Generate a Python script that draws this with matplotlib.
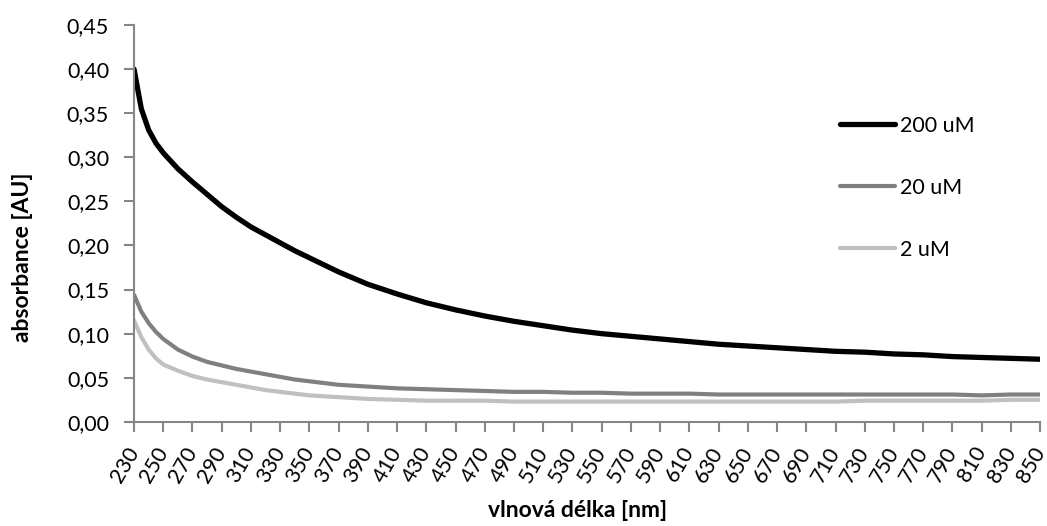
import matplotlib.pyplot as plt
from matplotlib.ticker import FuncFormatter

plt.rcParams['font.family'] = ['Lato', 'DejaVu Sans']

# wavelengths [nm] and measured absorbance [AU]
wavelength = [230, 235, 240, 245, 250, 260, 270, 280, 290, 300, 310, 320, 330,
              340, 350, 360, 370, 380, 390, 410, 430, 450, 470, 490, 510, 530,
              550, 570, 590, 610, 630, 650, 670, 690, 710, 730, 750, 770, 790,
              810, 830, 850]

abs_200 = [0.400, 0.355, 0.331, 0.316, 0.305, 0.287, 0.272, 0.258, 0.244, 0.232,
           0.221, 0.212, 0.203, 0.194, 0.186, 0.178, 0.170, 0.163, 0.156, 0.145,
           0.135, 0.127, 0.120, 0.114, 0.109, 0.104, 0.100, 0.097, 0.094, 0.091,
           0.088, 0.086, 0.084, 0.082, 0.080, 0.079, 0.077, 0.076, 0.074, 0.073,
           0.072, 0.071]

abs_20 = [0.144, 0.125, 0.112, 0.102, 0.094, 0.082, 0.074, 0.068, 0.064, 0.060,
          0.057, 0.054, 0.051, 0.048, 0.046, 0.044, 0.042, 0.041, 0.040, 0.038,
          0.037, 0.036, 0.035, 0.034, 0.034, 0.033, 0.033, 0.032, 0.032, 0.032,
          0.031, 0.031, 0.031, 0.031, 0.031, 0.031, 0.031, 0.031, 0.031, 0.030,
          0.031, 0.031]

abs_2 = [0.115, 0.096, 0.082, 0.072, 0.065, 0.058, 0.052, 0.048, 0.045, 0.042,
         0.039, 0.036, 0.034, 0.032, 0.030, 0.029, 0.028, 0.027, 0.026, 0.025,
         0.024, 0.024, 0.024, 0.023, 0.023, 0.023, 0.023, 0.023, 0.023, 0.023,
         0.023, 0.023, 0.023, 0.023, 0.023, 0.024, 0.024, 0.024, 0.024, 0.024,
         0.025, 0.025]

xticks = list(range(230, 851, 20))

fig = plt.figure(figsize=(10.47, 5.26), dpi=100)
ax = fig.add_axes([0.128, 0.198, 0.8655, 0.7545])

ax.plot(wavelength, abs_200, color='#000000', lw=3.8, label='200 uM',
        solid_capstyle='round')
ax.plot(wavelength, abs_20, color='#808080', lw=3.0, label='20 uM',
        solid_capstyle='round')
ax.plot(wavelength, abs_2, color='#c0c0c0', lw=3.0, label='2 uM',
        solid_capstyle='round')

ax.set_xlim(230, 850)
ax.set_ylim(0, 0.45)
ax.set_xticks(xticks)
ax.set_xticklabels([str(v) for v in xticks], rotation=60, ha='right',
                   va='center', rotation_mode='anchor')
ax.set_yticks([i * 0.05 for i in range(10)])
ax.yaxis.set_major_formatter(FuncFormatter(lambda v, p: f"{v:.2f}".replace('.', ',')))

for side in ['top', 'right']:
    ax.spines[side].set_visible(False)
for side in ['left', 'bottom']:
    ax.spines[side].set_color('#868686')
    ax.spines[side].set_linewidth(1.5)

ax.tick_params(axis='both', colors='#868686', labelcolor='black', labelsize=15.5,
               width=1.5, length=7)
ax.tick_params(axis='x', pad=12)
ax.tick_params(axis='y', pad=11)

ax.set_xlabel('vlnová délka [nm]', fontsize=16.5, fontweight='bold')
ax.set_ylabel('absorbance [AU]', fontsize=16.5, fontweight='bold')
ax.xaxis.set_label_coords(0.49, -0.197)
ax.yaxis.set_label_coords(-0.111, 0.415)

ax.legend(frameon=False, fontsize=15.5, handlelength=2.55, handletextpad=0.22,
          labelspacing=1.95, loc='upper left', bbox_to_anchor=(0.758, 0.82))

fig.savefig('out.png', dpi=100)
